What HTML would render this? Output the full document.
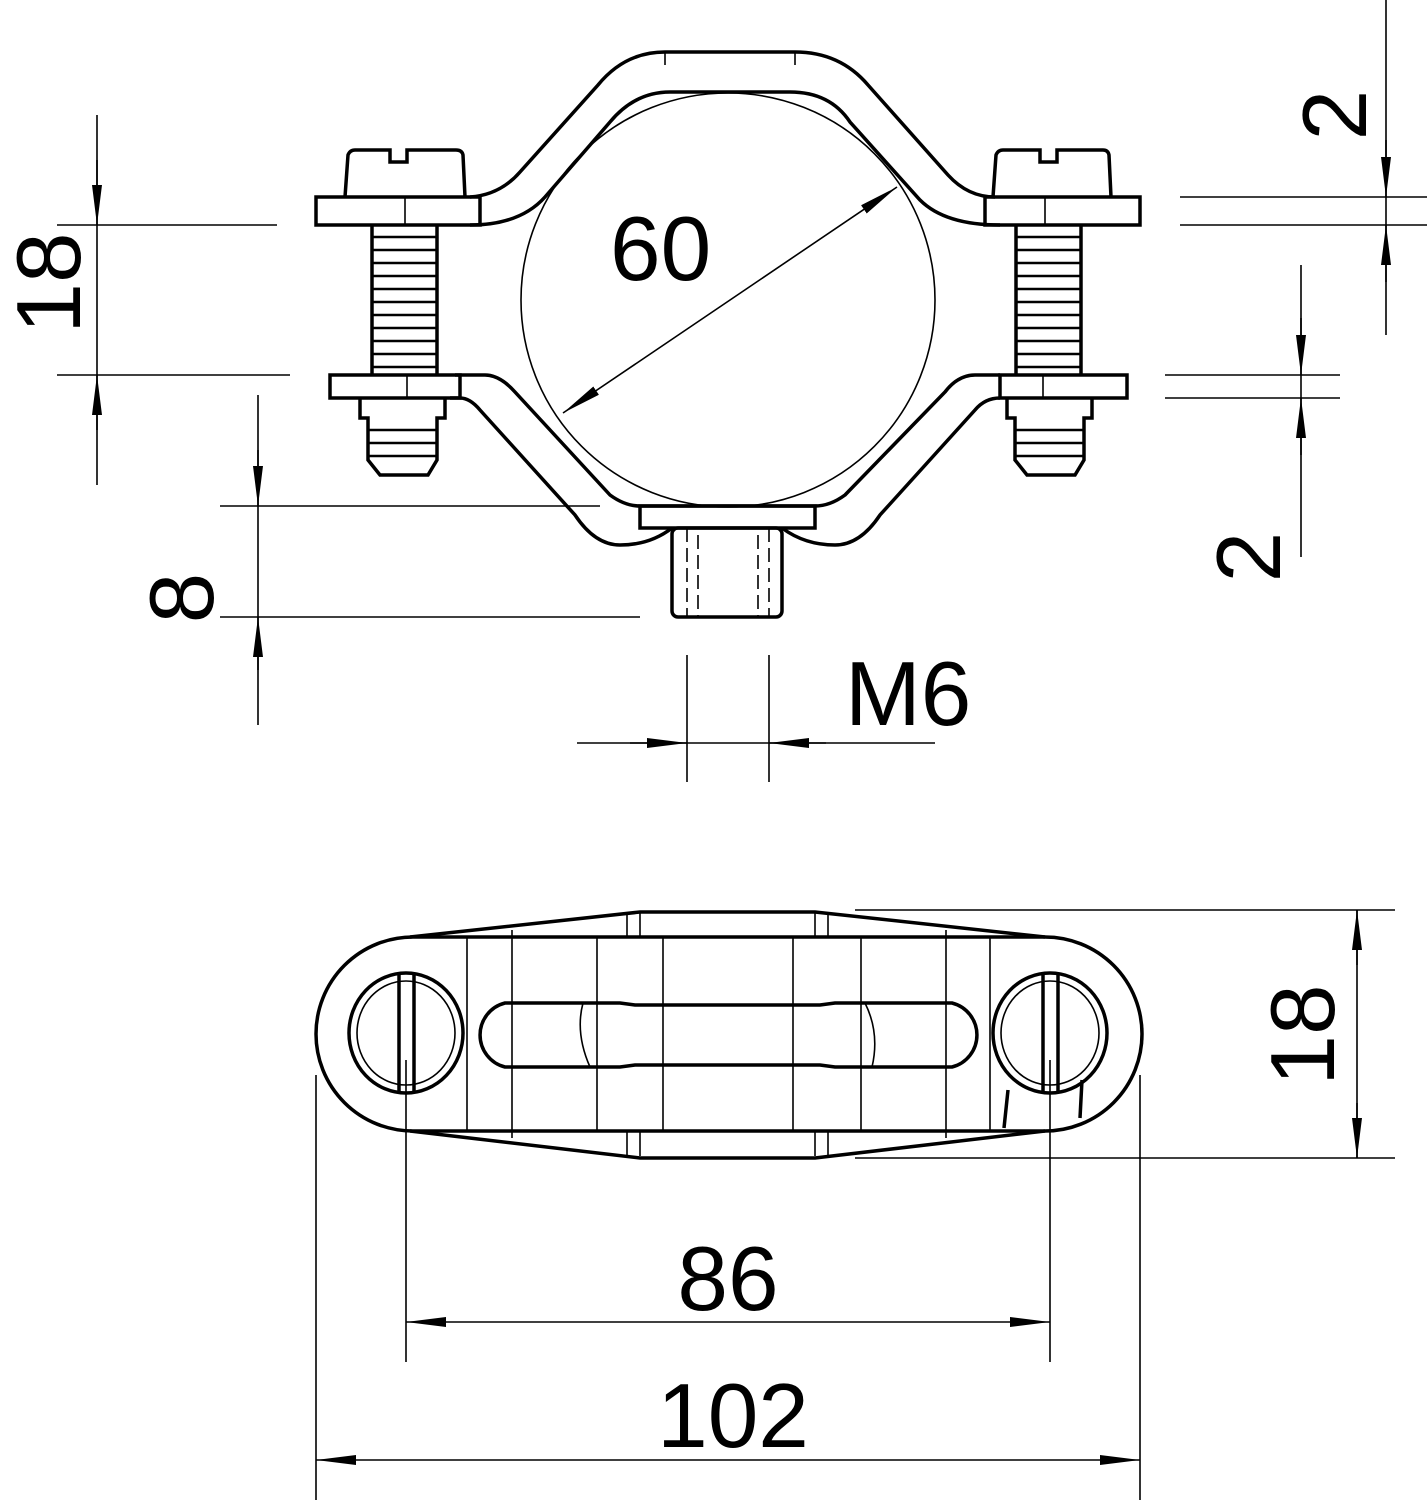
<!DOCTYPE html>
<html><head><style>html,body{margin:0;padding:0;background:#fff}svg{display:block}</style></head><body>
<svg width="1427" height="1500" viewBox="0 0 1427 1500" xmlns="http://www.w3.org/2000/svg" font-family="Liberation Sans, sans-serif">
<defs>
<marker id="b" viewBox="0 0 40 12" refX="40" refY="6" markerWidth="40" markerHeight="12" markerUnits="userSpaceOnUse" orient="auto-start-reverse"><path d="M0,1 L40,6 L0,11z" fill="#000"/></marker>
</defs>
<g stroke="#000" fill="none" stroke-width="1.6">
<line x1="97" y1="115" x2="97" y2="485"/>
<line x1="57" y1="225" x2="277" y2="225"/>
<line x1="57" y1="375" x2="290" y2="375"/>
<line x1="97" y1="160" x2="97" y2="225" marker-end="url(#b)"/>
<line x1="97" y1="430" x2="97" y2="375" marker-end="url(#b)"/>
<line x1="258" y1="395" x2="258" y2="725"/>
<line x1="220" y1="506" x2="600" y2="506"/>
<line x1="220" y1="617" x2="640" y2="617"/>
<line x1="258" y1="450" x2="258" y2="506" marker-end="url(#b)"/>
<line x1="258" y1="670" x2="258" y2="617" marker-end="url(#b)"/>
<line x1="687" y1="655" x2="687" y2="782"/>
<line x1="769" y1="655" x2="769" y2="782"/>
<line x1="577" y1="743" x2="935" y2="743"/>
<line x1="630" y1="743" x2="687" y2="743" marker-end="url(#b)"/>
<line x1="826" y1="743" x2="769" y2="743" marker-end="url(#b)"/>
<line x1="563" y1="413" x2="897" y2="187" marker-start="url(#b)" marker-end="url(#b)"/>
<line x1="1386" y1="0" x2="1386" y2="335"/>
<line x1="1180" y1="197" x2="1427" y2="197"/>
<line x1="1180" y1="225" x2="1427" y2="225"/>
<line x1="1386" y1="140" x2="1386" y2="197" marker-end="url(#b)"/>
<line x1="1386" y1="282" x2="1386" y2="225" marker-end="url(#b)"/>
<line x1="1301" y1="265" x2="1301" y2="557"/>
<line x1="1165" y1="375" x2="1340" y2="375"/>
<line x1="1165" y1="398" x2="1340" y2="398"/>
<line x1="1301" y1="318" x2="1301" y2="375" marker-end="url(#b)"/>
<line x1="1301" y1="455" x2="1301" y2="398" marker-end="url(#b)"/>
<line x1="1357" y1="910" x2="1357" y2="1158"/>
<line x1="855" y1="910" x2="1395" y2="910"/>
<line x1="855" y1="1158" x2="1395" y2="1158"/>
<line x1="1357" y1="965" x2="1357" y2="910" marker-end="url(#b)"/>
<line x1="1357" y1="1103" x2="1357" y2="1158" marker-end="url(#b)"/>
<line x1="406" y1="1060" x2="406" y2="1362"/>
<line x1="1050" y1="1060" x2="1050" y2="1362"/>
<line x1="406" y1="1322" x2="1050" y2="1322" marker-start="url(#b)" marker-end="url(#b)"/>
<line x1="316" y1="1075" x2="316" y2="1500"/>
<line x1="1140" y1="1075" x2="1140" y2="1500"/>
<line x1="316" y1="1460" x2="1140" y2="1460" marker-start="url(#b)" marker-end="url(#b)"/>
</g>
<g stroke="#000" fill="none" stroke-width="3.5">
<circle cx="728" cy="300" r="207" stroke-width="1.6"/>
<path d="M470,197 Q500,195 520,172 L598,85 Q625,52 665,52 L795,52 Q840,52 868,85 L948,175 Q968,197 995,197"/>
<path d="M470,225 Q520,225 545,197 L610,122 Q635,92 670,92 L790,92 Q830,92 850,122 L920,200 Q945,225 1000,225"/>
<line x1="665" y1="52" x2="665" y2="65" stroke-width="1.6"/>
<line x1="795" y1="52" x2="795" y2="65" stroke-width="1.6"/>
<path d="M455,375 L485,375 Q500,375 515,392 L610,495 Q625,506 640,506 L815,506 Q830,506 845,495 L945,392 Q958,375 975,375 L1000,375"/>
<path d="M450,398 L460,398 Q470,398 480,410 L575,515 Q595,545 620,545 Q650,545 672,528 M782,528 Q805,545 835,545 Q860,545 880,515 L975,410 Q985,398 1000,398"/>
<rect x="640" y="506" width="175" height="22"/>
<rect x="672" y="528" width="110" height="89" rx="6"/>
<g stroke-width="1.6" stroke-dasharray="14,6"><line x1="687" y1="528" x2="687" y2="617"/><line x1="698" y1="535" x2="698" y2="617"/><line x1="758" y1="535" x2="758" y2="617"/><line x1="769" y1="528" x2="769" y2="617"/></g>
<rect x="316" y="197" width="164" height="28"/>
<rect x="985" y="197" width="155" height="28"/>
<rect x="330" y="375" width="130" height="23"/>
<rect x="1000" y="375" width="127" height="23"/>
<line x1="405" y1="197" x2="405" y2="225" stroke-width="1.6"/>
<line x1="1045" y1="197" x2="1045" y2="225" stroke-width="1.6"/>
<line x1="407" y1="375" x2="407" y2="398" stroke-width="1.6"/>
<line x1="1043" y1="375" x2="1043" y2="398" stroke-width="1.6"/>
<path d="M345,197 L348,155 Q350,150 355,150 L390,150 L390,162 L407,162 L407,150 L456,150 Q462,150 463,155 L465,197"/>
<path d="M993,197 L996,155 Q998,150 1003,150 L1040,150 L1040,162 L1057,162 L1057,150 L1103,150 Q1108,150 1109,155 L1111,197"/>
<path d="M372,225 L372,375 M437,225 L437,375 M1016,225 L1016,375 M1081,225 L1081,375"/>
<path d="M372,237h65M372,250h65M372,263h65M372,276h65M372,289h65M372,302h65M372,315h65M372,328h65M372,341h65M372,354h65M372,367h65" stroke-width="2.5"/>
<path d="M1016,237h65M1016,250h65M1016,263h65M1016,276h65M1016,289h65M1016,302h65M1016,315h65M1016,328h65M1016,341h65M1016,354h65M1016,367h65" stroke-width="2.5"/>
<path d="M360,398 L360,418 L368,418 L368,460 L380,475 L428,475 L437,460 L437,418 L445,418 L445,398"/>
<path d="M368,430h69M368,443h69M368,456h69" stroke-width="2.5"/>
<path d="M1007,398 L1007,418 L1015,418 L1015,460 L1027,475 L1075,475 L1084,460 L1084,418 L1092,418 L1092,398"/>
<path d="M1015,430h69M1015,443h69M1015,456h69" stroke-width="2.5"/>
<path d="M413,937 L1045,937 A97,97 0 0 1 1045,1131 L413,1131 A97,97 0 0 1 413,937 Z"/>
<path d="M410,937 L640,912 L815,912 L1045,937"/>
<path d="M410,1131 L640,1158 L815,1158 L1045,1131"/>
<g stroke-width="1.6">
<line x1="467" y1="937" x2="467" y2="1131"/><line x1="512" y1="930" x2="512" y2="1138"/>
<line x1="597" y1="937" x2="597" y2="1131"/><line x1="663" y1="937" x2="663" y2="1131"/>
<line x1="793" y1="937" x2="793" y2="1131"/><line x1="861" y1="937" x2="861" y2="1131"/>
<line x1="946" y1="930" x2="946" y2="1138"/><line x1="990" y1="937" x2="990" y2="1131"/>
<line x1="627" y1="913" x2="627" y2="937"/><line x1="640" y1="913" x2="640" y2="937"/>
<line x1="815" y1="913" x2="815" y2="937"/><line x1="828" y1="913" x2="828" y2="937"/>
<line x1="627" y1="1131" x2="627" y2="1156"/><line x1="640" y1="1131" x2="640" y2="1156"/>
<line x1="815" y1="1131" x2="815" y2="1156"/><line x1="828" y1="1131" x2="828" y2="1156"/>
<path d="M583,1003 Q575,1033 590,1067"/><path d="M865,1003 Q880,1033 872,1067"/>
</g>
<path d="M505,1003 L620,1003 L635,1005 L820,1005 L835,1003 L952,1003 A33,33 0 0 1 952,1067 L835,1067 L820,1065 L635,1065 L620,1067 L505,1067 A33,33 0 0 1 505,1003 Z"/>
<ellipse cx="406" cy="1033" rx="57" ry="60"/>
<ellipse cx="406" cy="1033" rx="49" ry="52" stroke-width="1.6"/>
<line x1="399" y1="975" x2="399" y2="1092"/><line x1="414" y1="975" x2="414" y2="1092"/>
<ellipse cx="1050" cy="1033" rx="57" ry="60"/>
<ellipse cx="1050" cy="1033" rx="49" ry="52" stroke-width="1.6"/>
<line x1="1043" y1="975" x2="1043" y2="1092"/><line x1="1058" y1="975" x2="1058" y2="1092"/>
<path d="M1008,1090 L1004,1128 M1082,1080 L1080,1118"/>
</g>
<g fill="#000" font-size="91">
<text x="610" y="280">60</text>
<text x="845" y="725">M6</text>
<text x="728" y="1310" text-anchor="middle">86</text>
<text x="733" y="1447" text-anchor="middle">102</text>
<text transform="translate(80,283) rotate(-90)" text-anchor="middle">18</text>
<text transform="translate(213,598) rotate(-90)" text-anchor="middle">8</text>
<text transform="translate(1366,115) rotate(-90)" text-anchor="middle">2</text>
<text transform="translate(1280,557) rotate(-90)" text-anchor="middle">2</text>
<text transform="translate(1334,1035) rotate(-90)" text-anchor="middle">18</text>
</g>
</svg>
</body></html>
